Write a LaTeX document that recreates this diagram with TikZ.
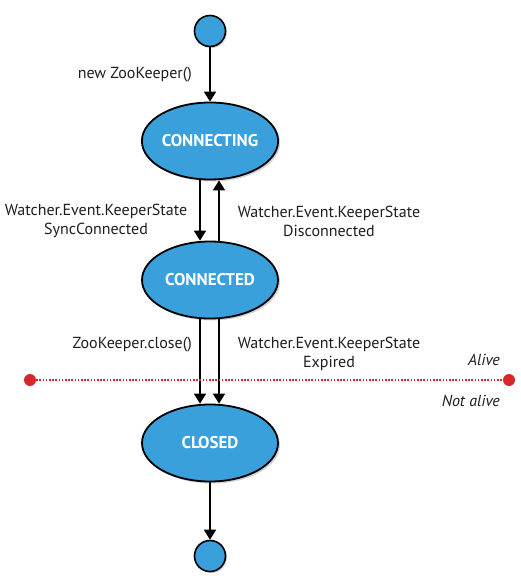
\documentclass[tikz,border=0pt]{standalone}
\usepackage{fontspec}
\setmainfont{PT Sans}
\usetikzlibrary{arrows.meta,shadows,shapes.geometric}
\definecolor{stblue}{RGB}{58,160,220}
\definecolor{alivered}{RGB}{214,40,44}
\definecolor{txt}{RGB}{30,30,30}
\begin{document}
\begin{tikzpicture}[x=1pt,y=-1pt,
  state/.style={ellipse,draw=black,line width=1.8pt,fill=stblue,minimum width=136pt,minimum height=77pt,inner sep=0pt,
     font=\bfseries\fontsize{17}{17}\selectfont,text=white,drop shadow={opacity=0.35,shadow xshift=2pt,shadow yshift=-2pt}},
  term/.style={circle,draw=black,line width=1.6pt,fill=stblue,minimum size=31pt,inner sep=0pt,
     drop shadow={opacity=0.35,shadow xshift=1.5pt,shadow yshift=-1.5pt}},
  trans/.style={draw=black,line width=1.8pt,-{Triangle[length=10pt,width=12pt]}},
  lbl/.style={font=\fontsize{16}{19}\selectfont,text=txt,align=center,inner sep=0pt},
  side/.style={font=\itshape\fontsize{16}{19}\selectfont,text=txt,inner sep=0pt},
  dot/.style={circle,fill=alivered,minimum size=12pt,inner sep=0pt}]
\useasboundingbox (0,0) rectangle (520,584);
\node[term] (start) at (210,31) {};
\node[state] (cing) at (210,141) {CONNECTING};
\node[state] (cted) at (210,280) {CONNECTED};
\node[state] (closed) at (210,443) {CLOSED};
\node[term] (end) at (210,556) {};
\draw[trans] (start) -- (cing);
\node[lbl,anchor=east] (lnew) at (192,75) {new ZooKeeper()};
% connecting <-> connected
\draw[trans] ([xshift=-10pt]cing.south) -- ([xshift=-10pt]cted.north);
\draw[trans] ([xshift=9pt]cted.north) -- ([xshift=9pt]cing.south);
\node[lbl] (lsync) at (96,221) {Watcher.Event.KeeperState\\SyncConnected};
\node[lbl] (ldisc) at (329,221) {Watcher.Event.KeeperState\\Disconnected};
% connected -> closed
\draw[trans] ([xshift=-10pt]cted.south) -- ([xshift=-10pt]closed.north);
\draw[trans] ([xshift=9pt]cted.south) -- ([xshift=9pt]closed.north);
\node[lbl,anchor=east] (lclose) at (192,345) {ZooKeeper.close()};
\node[lbl] (lexp) at (329,354) {Watcher.Event.KeeperState\\Expired};
% alive line
\node[dot] (dl) at (30,380) {};
\node[dot] (dr) at (509,380) {};
\draw[alivered,line width=1.5pt,dash pattern=on 1.6pt off 1.6pt] (dl) -- (dr);
\node[side,anchor=east] (alive) at (500,360) {Alive};
\node[side,anchor=east] (nalive) at (500,401) {Not alive};
\draw[trans] (closed) -- (end);
\end{tikzpicture}
\end{document}
